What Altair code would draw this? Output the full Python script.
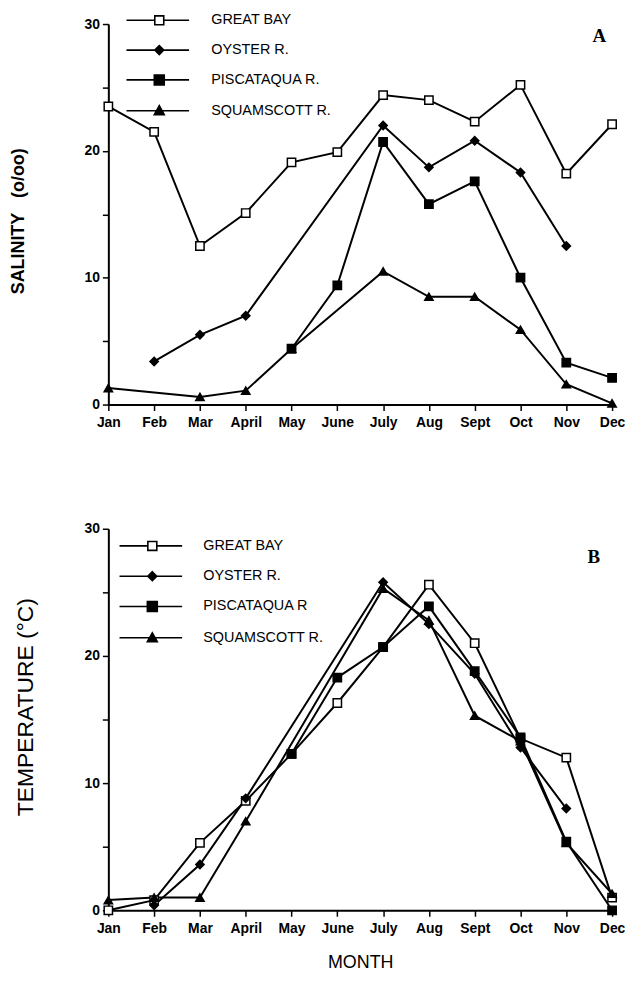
import altair as alt
import pandas as pd

months = ["Jan", "Feb", "Mar", "April", "May", "June", "July", "Aug", "Sept", "Oct", "Nov", "Dec"]

# Panel A: salinity (o/oo)
sal_series = ["GREAT BAY", "OYSTER R.", "PISCATAQUA R.", "SQUAMSCOTT R."]
sal_great_bay = [23.5, 21.5, 12.5, 15.1, 19.1, 19.9, 24.4, 24.0, 22.3, 25.2, 18.2, 22.1]
sal_oyster = [None, 3.4, 5.5, 7.0, None, None, 22.0, 18.7, 20.8, 18.3, 12.5, None]
sal_piscataqua = [None, None, None, None, 4.4, 9.4, 20.7, 15.8, 17.6, 10.0, 3.3, 2.1]
sal_squamscott = [1.3, None, 0.6, 1.1, 4.4, None, 10.5, 8.5, 8.5, 5.9, 1.6, 0.1]

# Panel B: temperature (deg C)
tmp_series = ["GREAT BAY", "OYSTER R.", "PISCATAQUA R", "SQUAMSCOTT R."]
tmp_great_bay = [0.0, 0.8, 5.3, 8.6, 12.3, 16.3, 20.7, 25.6, 21.0, 13.5, 12.0, 1.0]
tmp_oyster = [None, 0.4, 3.6, 8.8, None, None, 25.8, 22.5, 18.6, 12.8, 8.0, None]
tmp_piscataqua = [None, None, None, None, 12.3, 18.3, 20.7, 23.9, 18.8, 13.6, 5.4, 0.0]
tmp_squamscott = [0.8, 1.0, 1.0, 7.0, None, None, 25.3, 22.8, 15.3, 13.3, 5.3, 1.3]

y_ticks = [0, 5, 10, 15, 20, 25, 30]

marker_shapes = ["square", "diamond", "square", "triangle-up"]
marker_fills = ["white", "black", "black", "black"]
marker_sizes = [70, 70, 100, 80]
# legend key: a line with the marker on it (unit = 5 px)
legend_paths = [
    "M0,0H5.7M7.5,0H12.6M5.7,-0.9H7.5V0.9H5.7Z",
    "M0,0H12.6M6.6,-0.9L7.5,0L6.6,0.9L5.7,0Z",
    "M0,0H12.6M5.6,-1H7.6V1H5.6Z",
    "M0,0H12.6M6.6,-1L7.6,0.8H5.6Z",
]

FONT = "Liberation Sans"


def long_df(series, columns):
    rows = []
    for name, vals in zip(series, columns):
        for i, (m, v) in enumerate(zip(months, vals)):
            if v is not None:
                rows.append({"month": m, "mi": i, "series": name, "marker": name, "value": v})
    return pd.DataFrame(rows)


def panel(df, series, ytitle, ytitle_size, ytitle_weight, title_pad, title_y, letter,
          letter_offset, letter_dx, legend_x, legend_y, label_offset, row_pad, height, xtitle):
    expr = " : ".join(f"datum.value === '{s}' ? '{p}'" for s, p in zip(series, legend_paths)) + " : 'circle'"
    x = alt.X("month:O", sort=months,
              scale=alt.Scale(type="point", padding=0),
              axis=alt.Axis(title=xtitle, labelAngle=0, labelPadding=5,
                            titleFont=FONT, titleFontSize=18, titleFontWeight="normal",
                            titlePadding=19, titleColor="black"))
    y = alt.Y("value:Q", scale=alt.Scale(domain=[0, 30], nice=False, zero=True),
              axis=alt.Axis(title=ytitle, values=y_ticks,
                            labelExpr="datum.value % 10 === 0 ? datum.label : ''",
                            titleFont=FONT, titleFontSize=ytitle_size,
                            titleFontWeight=ytitle_weight, titleColor="black",
                            titlePadding=title_pad, titleY=title_y, labelPadding=3))
    lines = alt.Chart(df).mark_line(color="black", strokeWidth=2).encode(
        x=x, y=y, detail="series:N", order="mi:Q")
    pts = alt.Chart(df).mark_point(filled=True, stroke="black", strokeWidth=1.5, opacity=1).encode(
        x=x, y=y,
        shape=alt.Shape("marker:N", sort=series,
                        scale=alt.Scale(range=marker_shapes), legend=None),
        size=alt.Size("marker:N", sort=series,
                      scale=alt.Scale(range=marker_sizes), legend=None),
        fill=alt.Fill("series:N", sort=series,
                      scale=alt.Scale(domain=series, range=marker_fills),
                      legend=alt.Legend(
                          title=None, orient="none", legendX=legend_x, legendY=legend_y,
                          symbolSize=100, labelOffset=label_offset, rowPadding=row_pad,
                          labelFont=FONT, labelFontSize=14.5, labelColor="black",
                          padding=0, symbolType=alt.ExprRef(expr),
                          symbolStrokeColor="black", symbolStrokeWidth=1.6,
                          symbolOpacity=1)),
    )
    return alt.layer(lines, pts).properties(
        width=507, height=height,
        title=alt.TitleParams(letter, anchor="end", frame="group", font="Liberation Serif",
                              fontSize=19, fontWeight="bold", color="black",
                              offset=letter_offset, dx=letter_dx),
    )


top = panel(long_df(sal_series, [sal_great_bay, sal_oyster, sal_piscataqua, sal_squamscott]),
            sal_series, "SALINITY\u00a0\u00a0\u00a0(o/oo)", 18, "bold", 57, 198, "A", -33, -6,
            11, -11, 78, 14, 383, None)
bottom = panel(long_df(tmp_series, [tmp_great_bay, tmp_oyster, tmp_piscataqua, tmp_squamscott]),
               tmp_series, "TEMPERATURE (\u00b0C)", 23, "normal", 47, 179, "B", -45, -12,
               4, 10, 77, 14.5, 384, "MONTH")

chart = alt.vconcat(top, bottom, spacing=93).properties(
    padding={"left": 1, "top": 2, "right": 0, "bottom": 0}
).configure_view(strokeWidth=0).configure_axis(
    labelFont=FONT, labelFontSize=14, labelFontWeight="bold", labelColor="black",
    domainColor="black", domainWidth=2, tickColor="black", tickWidth=1.5, tickSize=6,
    grid=False,
).resolve_scale(shape="independent", fill="independent", size="independent")

chart.save("out.html", embed_options={"renderer": "svg", "actions": False})
